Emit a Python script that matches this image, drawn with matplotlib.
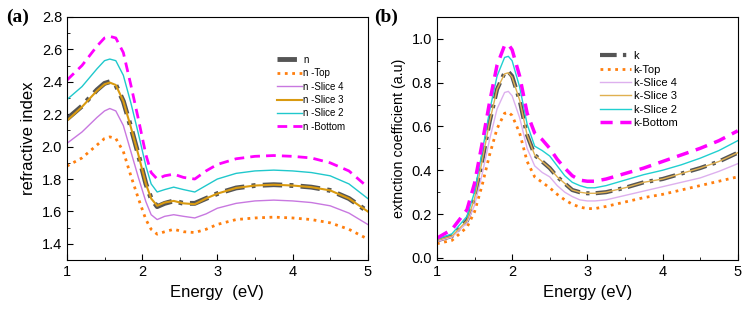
import matplotlib.pyplot as plt
from matplotlib.ticker import MultipleLocator

plt.rcParams['font.family'] = ['Liberation Sans', 'DejaVu Sans']

# energy grid for refractive index (eV)
e_n = [1.0, 1.2, 1.4, 1.5, 1.57, 1.65, 1.75, 1.85, 1.95, 2.05, 2.12, 2.2, 2.3, 2.42, 2.55,
       2.7, 2.85, 3.0, 3.25, 3.5, 3.75, 4.0, 4.25, 4.5, 4.75, 5.0]
n_avg = [2.17, 2.25, 2.35, 2.39, 2.40, 2.38, 2.28, 2.12, 1.95, 1.77, 1.68, 1.63, 1.65, 1.665, 1.65,
         1.65, 1.68, 1.71, 1.745, 1.76, 1.765, 1.76, 1.75, 1.73, 1.68, 1.60]
n_top = [1.88, 1.93, 2.01, 2.05, 2.06, 2.05, 1.97, 1.82, 1.68, 1.55, 1.49, 1.46, 1.475, 1.49, 1.475,
         1.47, 1.49, 1.52, 1.55, 1.56, 1.565, 1.56, 1.55, 1.53, 1.49, 1.43]
n_s4 = [2.02, 2.09, 2.18, 2.22, 2.235, 2.22, 2.13, 1.97, 1.81, 1.66, 1.58, 1.55, 1.57, 1.58, 1.57,
        1.56, 1.585, 1.62, 1.65, 1.665, 1.67, 1.665, 1.655, 1.635, 1.59, 1.52]
n_s3 = [2.16, 2.245, 2.345, 2.385, 2.395, 2.38, 2.28, 2.12, 1.95, 1.77, 1.68, 1.635, 1.655, 1.665, 1.65,
        1.645, 1.68, 1.71, 1.745, 1.76, 1.765, 1.76, 1.75, 1.73, 1.68, 1.60]
n_s2 = [2.29, 2.37, 2.48, 2.53, 2.54, 2.53, 2.44, 2.27, 2.08, 1.88, 1.77, 1.72, 1.735, 1.75, 1.735,
        1.72, 1.76, 1.80, 1.835, 1.85, 1.855, 1.85, 1.84, 1.82, 1.77, 1.68]
n_bot = [2.41, 2.50, 2.62, 2.67, 2.68, 2.67, 2.58, 2.38, 2.17, 1.95, 1.84, 1.80, 1.82, 1.83, 1.81,
         1.80, 1.85, 1.89, 1.925, 1.94, 1.945, 1.94, 1.93, 1.90, 1.85, 1.75]

# energy grid for extinction coefficient (eV)
e_k = [1.0, 1.2, 1.4, 1.5, 1.6, 1.7, 1.8, 1.9, 1.95, 2.0, 2.1, 2.2, 2.3, 2.4, 2.5, 2.6,
       2.7, 2.8, 2.9, 3.0, 3.1, 3.25, 3.5, 3.75, 4.0, 4.25, 4.5, 4.75, 5.0]
k_avg = [0.08, 0.10, 0.17, 0.27, 0.44, 0.62, 0.77, 0.845, 0.85, 0.83, 0.72, 0.56, 0.47, 0.44, 0.41, 0.37,
         0.34, 0.31, 0.30, 0.295, 0.295, 0.30, 0.32, 0.345, 0.36, 0.385, 0.41, 0.44, 0.48]
k_top = [0.065, 0.08, 0.14, 0.21, 0.33, 0.47, 0.59, 0.66, 0.665, 0.65, 0.57, 0.44, 0.37, 0.345, 0.32, 0.29,
         0.265, 0.245, 0.232, 0.225, 0.225, 0.235, 0.255, 0.275, 0.29, 0.31, 0.33, 0.35, 0.37]
k_s4 = [0.075, 0.095, 0.16, 0.24, 0.38, 0.54, 0.68, 0.755, 0.76, 0.74, 0.64, 0.50, 0.42, 0.39, 0.37, 0.33,
        0.30, 0.28, 0.265, 0.26, 0.26, 0.265, 0.285, 0.305, 0.325, 0.345, 0.365, 0.395, 0.43]
k_s3 = [0.08, 0.10, 0.17, 0.27, 0.44, 0.62, 0.77, 0.84, 0.845, 0.825, 0.72, 0.56, 0.47, 0.44, 0.41, 0.37,
        0.34, 0.31, 0.30, 0.295, 0.295, 0.30, 0.32, 0.345, 0.36, 0.385, 0.41, 0.44, 0.48]
k_s2 = [0.085, 0.11, 0.19, 0.30, 0.48, 0.67, 0.83, 0.915, 0.92, 0.90, 0.78, 0.61, 0.51, 0.49, 0.465, 0.42,
        0.375, 0.345, 0.33, 0.32, 0.32, 0.33, 0.355, 0.38, 0.40, 0.425, 0.455, 0.49, 0.535]
k_bot = [0.09, 0.13, 0.22, 0.34, 0.52, 0.71, 0.88, 0.97, 0.975, 0.95, 0.83, 0.66, 0.57, 0.54, 0.50, 0.45,
         0.41, 0.375, 0.355, 0.35, 0.35, 0.36, 0.385, 0.41, 0.44, 0.47, 0.50, 0.535, 0.58]

fig = plt.figure(figsize=(7.52, 3.13), dpi=100)
ax1 = fig.add_axes([0.089, 0.169, 0.400, 0.777])
ax2 = fig.add_axes([0.581, 0.169, 0.400, 0.777])

dashdot = (0, (4, 1.5, 0.8, 1.5))
dashed = (0, (3.5, 2.2))

# (a) refractive index
ax1.plot(e_n, n_avg, color='#555555', ls=dashdot, lw=3.5, label='n')
ax1.plot(e_n, n_top, color='#ff7f0e', ls=':', lw=2, label='n -Top')
ax1.plot(e_n, n_s4, color='#c878e0', lw=1, label='n -Slice 4')
ax1.plot(e_n, n_s3, color='#d99a10', lw=1.5, label='n -Slice 3')
ax1.plot(e_n, n_s2, color='#20c8cc', lw=1, label='n -Slice 2')
ax1.plot(e_n, n_bot, color='#ff00ff', ls=dashed, lw=2, label='n -Bottom')
ax1.set_xlim(1, 5)
ax1.set_ylim(1.3, 2.8)
ax1.yaxis.set_major_locator(MultipleLocator(0.2))
ax1.yaxis.set_minor_locator(MultipleLocator(0.1))
ax1.set_ylabel('refractive index', fontsize=12)
ax1.set_xlabel('Energy  (eV)', fontsize=12)
ax1.legend(loc='upper left', bbox_to_anchor=(0.67, 0.88), frameon=False, fontsize=7,
           handlelength=2.5, labelspacing=0.35, handletextpad=0.2)

# (b) extinction coefficient
ax2.plot(e_k, k_avg, color='#555555', ls=dashdot, lw=3, label='k')
ax2.plot(e_k, k_top, color='#ff7f0e', ls=':', lw=2, label='k-Top')
ax2.plot(e_k, k_s4, color='#ddb0ee', lw=1, label='k-Slice 4')
ax2.plot(e_k, k_s3, color='#e0b050', lw=1, label='k-Slice 3')
ax2.plot(e_k, k_s2, color='#20d0d0', lw=1, label='k-Slice 2')
ax2.plot(e_k, k_bot, color='#ff00ff', ls=dashed, lw=2.5, label='k-Bottom')
ax2.set_xlim(1, 5)
ax2.set_ylim(-0.01, 1.1)
ax2.yaxis.set_major_locator(MultipleLocator(0.2))
ax2.yaxis.set_minor_locator(MultipleLocator(0.1))
ax2.set_ylabel('extnction coefficient (a.u)', fontsize=10.3)
ax2.set_xlabel('Energy (eV)', fontsize=12)
ax2.legend(loc='upper left', bbox_to_anchor=(0.51, 0.90), frameon=False, fontsize=8,
           handlelength=2.8, labelspacing=0.3, handletextpad=0.2)

for ax in (ax1, ax2):
    ax.xaxis.set_major_locator(MultipleLocator(1))
    ax.xaxis.set_minor_locator(MultipleLocator(0.5))
    ax.tick_params(which='both', direction='in', labelsize=10.5)
    ax.tick_params(which='major', length=4)
    ax.tick_params(which='minor', length=2.5)

fig.text(0.008, 0.93, '(a)', fontsize=14, fontweight='bold', family='Liberation Serif')
fig.text(0.497, 0.93, '(b)', fontsize=14, fontweight='bold', family='Liberation Serif')

fig.savefig('out.png', dpi=100)
